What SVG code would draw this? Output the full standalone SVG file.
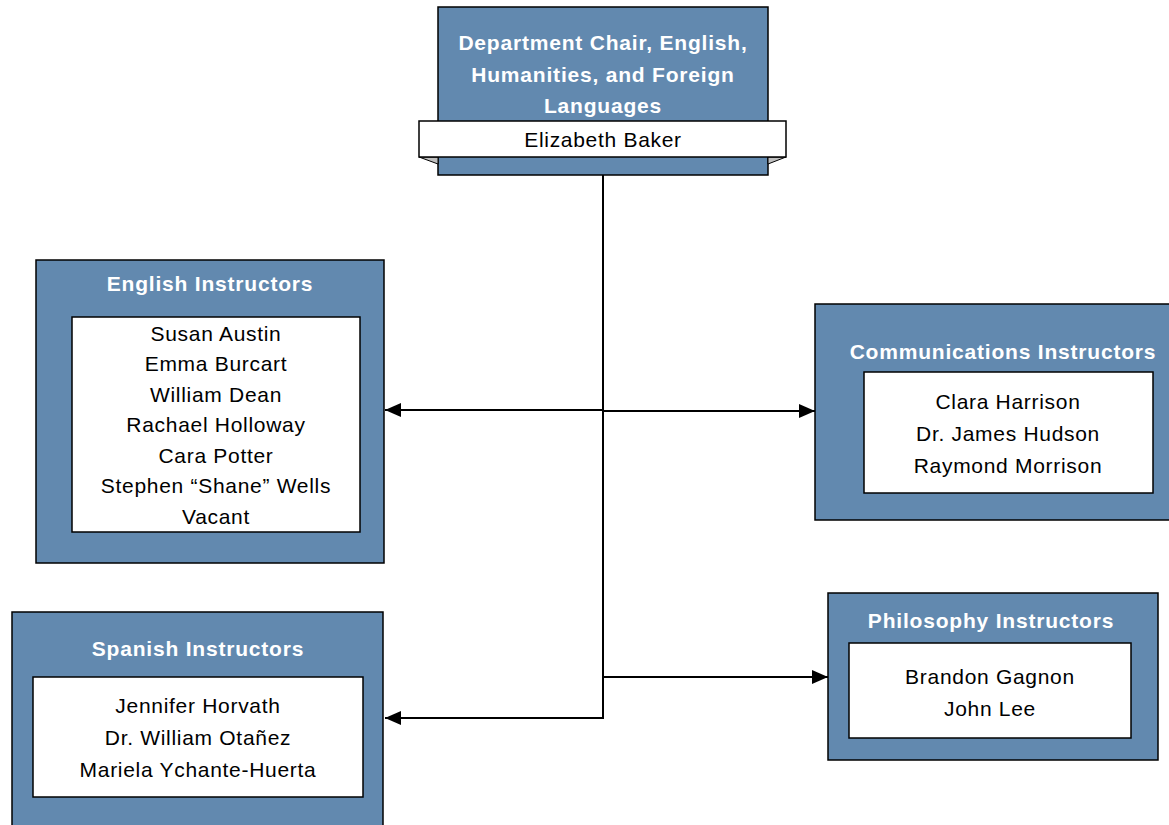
<svg xmlns="http://www.w3.org/2000/svg" width="1169" height="825" viewBox="0 0 1169 825">
<style>
.outer{fill:#6289AF;stroke:#000;stroke-width:1.5}
.inner{fill:#fff;stroke:#000;stroke-width:1.5}
.title{font-family:"Liberation Sans",Arial,sans-serif;font-weight:bold;font-size:21px;letter-spacing:0.8px;fill:#fff;text-anchor:middle}
.name{font-family:"Liberation Sans",Arial,sans-serif;font-size:21px;letter-spacing:0.7px;fill:#000;text-anchor:middle}
.conn{fill:none;stroke:#000;stroke-width:2}
</style>
<defs>
<marker id="arr" markerWidth="16" markerHeight="14" refX="16" refY="7" orient="auto" markerUnits="userSpaceOnUse">
<path d="M0,0 L16,7 L0,14 Z" fill="#000"/>
</marker>
</defs>
<rect width="1169" height="825" fill="#fff"/>
<g id="connectors">
<line class="conn" x1="603" y1="175" x2="603" y2="719"/>
<line class="conn" x1="603" y1="410" x2="385" y2="410" marker-end="url(#arr)"/>
<line class="conn" x1="603" y1="411" x2="815" y2="411" marker-end="url(#arr)"/>
<line class="conn" x1="603" y1="677" x2="828" y2="677" marker-end="url(#arr)"/>
<line class="conn" x1="604" y1="718" x2="385" y2="718" marker-end="url(#arr)"/>
</g>
<g id="chair">
<rect class="outer" x="438" y="7" width="330" height="168"/>
<polygon points="419,157 438,157 438,164" fill="#bfbfbf" stroke="#000" stroke-width="1"/>
<polygon points="786,157 768,157 768,164" fill="#bfbfbf" stroke="#000" stroke-width="1"/>
<rect class="inner" x="419" y="121" width="367" height="36"/>
<text class="title" x="603" y="50">Department Chair, English,</text>
<text class="title" x="603" y="82">Humanities, and Foreign</text>
<text class="title" x="603" y="113">Languages</text>
<text class="name" x="603" y="147">Elizabeth Baker</text>
</g>
<g id="english">
<rect class="outer" x="36" y="260" width="348" height="303"/>
<rect class="inner" x="72" y="317" width="288" height="215"/>
<text class="title" x="210" y="291">English Instructors</text>
<text class="name" x="216" y="341">Susan Austin</text>
<text class="name" x="216" y="371">Emma Burcart</text>
<text class="name" x="216" y="402">William Dean</text>
<text class="name" x="216" y="432">Rachael Holloway</text>
<text class="name" x="216" y="463">Cara Potter</text>
<text class="name" x="216" y="493">Stephen “Shane” Wells</text>
<text class="name" x="216" y="524">Vacant</text>
</g>
<g id="communications">
<rect class="outer" x="815" y="304" width="360" height="216"/>
<rect class="inner" x="864" y="372" width="289" height="121"/>
<text class="title" x="1003" y="359">Communications Instructors</text>
<text class="name" x="1008" y="409">Clara Harrison</text>
<text class="name" x="1008" y="441">Dr. James Hudson</text>
<text class="name" x="1008" y="473">Raymond Morrison</text>
</g>
<g id="spanish">
<rect class="outer" x="12" y="612" width="371" height="220"/>
<rect class="inner" x="33" y="677" width="330" height="120"/>
<text class="title" x="198" y="656">Spanish Instructors</text>
<text class="name" x="198" y="713">Jennifer Horvath</text>
<text class="name" x="198" y="745">Dr. William Otañez</text>
<text class="name" x="198" y="777">Mariela Ychante-Huerta</text>
</g>
<g id="philosophy">
<rect class="outer" x="828" y="593" width="330" height="167"/>
<rect class="inner" x="849" y="643" width="282" height="95"/>
<text class="title" x="991" y="628">Philosophy Instructors</text>
<text class="name" x="990" y="684">Brandon Gagnon</text>
<text class="name" x="990" y="716">John Lee</text>
</g>
</svg>
